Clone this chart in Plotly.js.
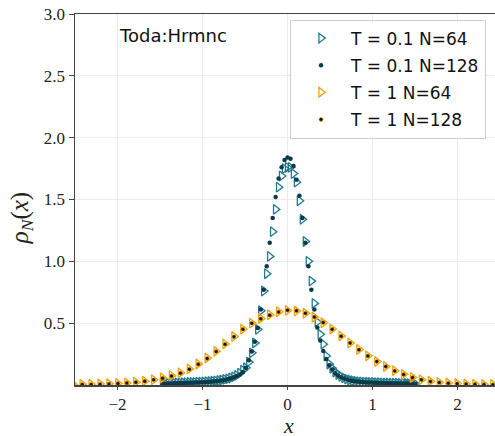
<!DOCTYPE html>
<html>
<head>
<meta charset="utf-8">
<script src="https://cdn.plot.ly/plotly-3.0.1.min.js"></script>
<style>html,body{margin:0;padding:0;background:#fff;}#chart{width:495px;height:436px;}</style>
</head>
<body>
<div id="chart"></div>
<script>
// T = 0.1 : bin centres
const xLowT = [-1.470,-1.435,-1.400,-1.365,-1.330,-1.295,-1.260,-1.225,-1.190,-1.155,-1.120,-1.085,-1.050,-1.015,-0.980,-0.945,-0.910,-0.875,-0.840,-0.805,-0.770,-0.735,-0.700,-0.665,-0.630,-0.595,-0.560,-0.525,-0.490,-0.455,-0.420,-0.385,-0.350,-0.315,-0.280,-0.245,-0.210,-0.175,-0.140,-0.105,-0.070,-0.035,0.000,0.035,0.070,0.105,0.140,0.175,0.210,0.245,0.280,0.315,0.350,0.385,0.420,0.455,0.490,0.525,0.560,0.595,0.630,0.665,0.700,0.735,0.770,0.805,0.840,0.875,0.910,0.945,0.980,1.015,1.050,1.085,1.120,1.155,1.190,1.225,1.260,1.295,1.330,1.365,1.400,1.435,1.470,1.505];
const rhoLowT_N64 = [0.011,0.012,0.013,0.014,0.015,0.016,0.017,0.018,0.019,0.020,0.020,0.021,0.022,0.023,0.024,0.026,0.028,0.030,0.033,0.036,0.040,0.045,0.050,0.057,0.066,0.078,0.095,0.120,0.140,0.185,0.260,0.340,0.450,0.600,0.760,0.900,1.040,1.240,1.420,1.600,1.690,1.750,1.760,1.760,1.710,1.640,1.490,1.340,1.160,1.000,0.840,0.660,0.510,0.410,0.330,0.235,0.170,0.135,0.105,0.085,0.070,0.058,0.048,0.040,0.034,0.030,0.027,0.025,0.023,0.022,0.021,0.020,0.019,0.018,0.017,0.016,0.016,0.015,0.015,0.014,0.013,0.013,0.012,0.011,0.010,0.009];
const rhoLowT_N128 = [0.010,0.011,0.012,0.013,0.014,0.015,0.016,0.017,0.018,0.019,0.019,0.020,0.021,0.022,0.023,0.025,0.027,0.029,0.031,0.034,0.037,0.042,0.048,0.055,0.063,0.072,0.085,0.105,0.140,0.200,0.270,0.350,0.460,0.610,0.770,0.960,1.150,1.350,1.520,1.670,1.760,1.820,1.840,1.830,1.770,1.660,1.530,1.350,1.150,0.960,0.770,0.610,0.465,0.360,0.275,0.210,0.160,0.125,0.095,0.075,0.062,0.052,0.044,0.037,0.032,0.029,0.026,0.024,0.022,0.021,0.020,0.019,0.018,0.017,0.017,0.016,0.015,0.015,0.014,0.014,0.013,0.013,0.012,0.011,0.010,0.009];
// T = 1 : bin centres
const xHighT = [-2.520,-2.415,-2.310,-2.205,-2.100,-1.995,-1.890,-1.785,-1.680,-1.575,-1.470,-1.365,-1.260,-1.155,-1.050,-0.945,-0.840,-0.735,-0.630,-0.525,-0.420,-0.315,-0.210,-0.105,0.000,0.105,0.210,0.315,0.420,0.525,0.630,0.735,0.840,0.945,1.050,1.155,1.260,1.365,1.470,1.575,1.680,1.785,1.890,1.995,2.100,2.205,2.310,2.415,2.520];
const rhoHighT_N64 = [0.004,0.005,0.006,0.008,0.010,0.013,0.017,0.023,0.031,0.043,0.057,0.075,0.098,0.130,0.170,0.218,0.272,0.332,0.392,0.452,0.500,0.538,0.568,0.592,0.603,0.598,0.580,0.548,0.503,0.452,0.397,0.340,0.287,0.236,0.190,0.150,0.116,0.086,0.061,0.043,0.030,0.021,0.016,0.012,0.009,0.006,0.005,0.004,0.003];
const rhoHighT_N128 = [0.003,0.004,0.005,0.007,0.009,0.012,0.016,0.022,0.030,0.042,0.055,0.072,0.096,0.128,0.168,0.215,0.270,0.330,0.390,0.450,0.500,0.535,0.565,0.590,0.605,0.600,0.580,0.550,0.505,0.450,0.395,0.340,0.285,0.235,0.190,0.150,0.114,0.085,0.060,0.042,0.028,0.020,0.015,0.011,0.008,0.006,0.004,0.003,0.002];

const seriesNames = ["T = 0.1 N=64", "T = 0.1 N=128", "T = 1 N=64", "T = 1 N=128"];
const yTicks = [0.5, 1.0, 1.5, 2.0, 2.5, 3.0];
const xTicks = [-2, -1, 0, 1, 2];

const teal = "#237a8e", tealDark = "#0b3a4a", orange = "#f0a30a";
const serif = "Liberation Serif";
const sans = "DejaVu Sans";

const traces = [
  {x: xLowT, y: rhoLowT_N64, name: seriesNames[0], legendgroup: "a", mode: "markers", type: "scatter",
   marker: {symbol: "triangle-right-open", size: 8.5, color: teal, line: {width: 1.3, color: teal}}},
  {x: xLowT, y: rhoLowT_N128, name: seriesNames[1], legendgroup: "b", mode: "markers", type: "scatter",
   marker: {symbol: "circle", size: 4.5, color: tealDark}},
  {x: xHighT, y: rhoHighT_N64, name: seriesNames[2], legendgroup: "c", mode: "markers", type: "scatter",
   marker: {symbol: "triangle-right-open", size: 8.5, color: orange, line: {width: 1.3, color: orange}}},
  {x: xHighT, y: rhoHighT_N128, name: seriesNames[3], legendgroup: "d", mode: "markers", type: "scatter",
   marker: {symbol: "circle", size: 4, color: "#1a1200", line: {width: 0.6, color: orange}}}
];

const axisLine = "#444";
const layout = {
  width: 495, height: 436,
  margin: {l: 75, r: 0, t: 14, b: 51, pad: 0},
  paper_bgcolor: "#fff", plot_bgcolor: "#fff",
  showlegend: true,
  font: {family: serif, color: "#222"},
  xaxis: {
    range: [-2.5, 2.44], tickvals: xTicks, ticks: "outside", ticklen: 3, tickwidth: 1, tickcolor: axisLine,
    showline: true, linecolor: axisLine, linewidth: 1.5, mirror: true,
    showgrid: true, gridcolor: "#ebebeb", gridwidth: 1, zeroline: false,
    tickfont: {family: serif, size: 17, color: "#222"}
  },
  yaxis: {
    range: [0, 3.0], tickvals: yTicks, tickformat: ".1f", ticks: "outside", ticklen: 5, tickwidth: 1, tickcolor: axisLine,
    showline: true, linecolor: axisLine, linewidth: 1.5, mirror: false,
    showgrid: true, gridcolor: "#ebebeb", gridwidth: 1, zeroline: false,
    tickfont: {family: serif, size: 17, color: "#222"}
  },
  legend: {
    x: 0.512, y: 0.985, xanchor: "left", yanchor: "top",
    bgcolor: "rgba(255,255,255,0.85)", bordercolor: "#d0d0d0", borderwidth: 1,
    font: {family: sans, size: 17, color: "#111"},
    itemwidth: 50, tracegroupgap: 2
  },
  annotations: [
    {text: "Toda:Hrmnc", xref: "paper", yref: "paper", x: 0.233, y: 0.943, xanchor: "center", yanchor: "middle",
     showarrow: false, font: {family: sans, size: 18, color: "#111"}},
    {text: "<i>x</i>", xref: "paper", yref: "paper", x: 0.508, y: -0.108, xanchor: "center", yanchor: "middle",
     height: 20, borderpad: 0,
     showarrow: false, font: {family: serif, size: 22, color: "#222"}},
    {text: "<i>ρ</i><sub><i>N</i></sub>(<i>x</i>)", xref: "paper", yref: "paper", x: -0.128, y: 0.45,
     xanchor: "center", yanchor: "middle", textangle: -90,
     showarrow: false, font: {family: serif, size: 25, color: "#222"}}
  ]
};

Plotly.newPlot("chart", traces, layout, {displayModeBar: false, staticPlot: true});
</script>
</body>
</html>
